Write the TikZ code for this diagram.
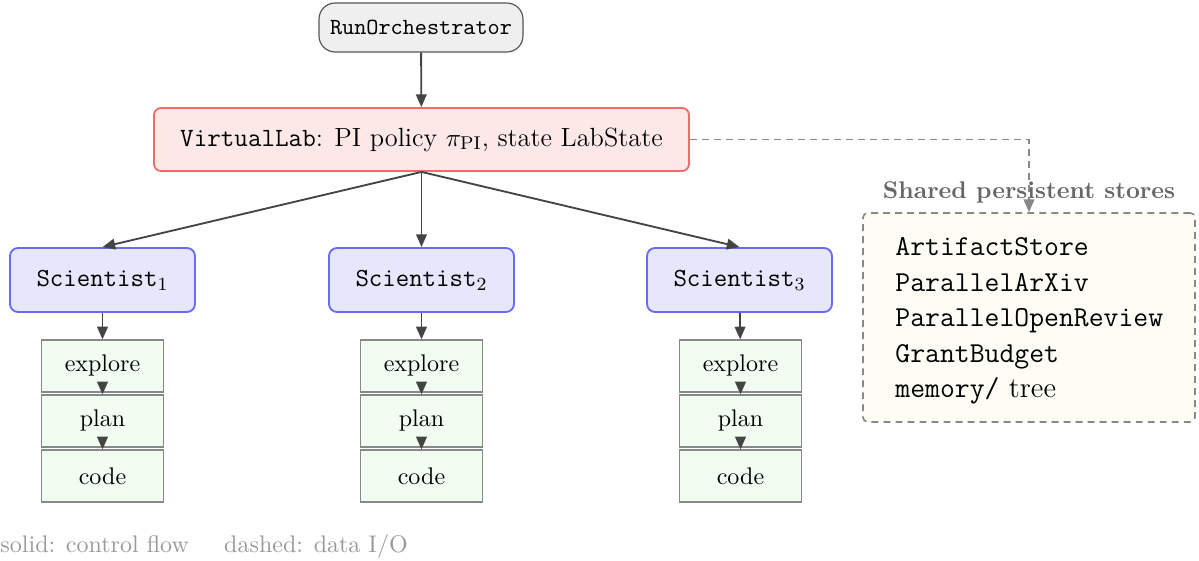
\documentclass[tikz,border=0pt]{standalone}
\usetikzlibrary{arrows.meta,positioning}
\def\pxu{0.4329pt}
\definecolor{ctrl}{HTML}{444444}
\definecolor{datac}{HTML}{888888}
\definecolor{orchfill}{HTML}{EFEFEF}
\definecolor{orchdraw}{HTML}{555555}
\definecolor{labfill}{HTML}{FDE8E8}
\definecolor{labdraw}{HTML}{F26B6B}
\definecolor{scifill}{HTML}{E6E6FC}
\definecolor{scidraw}{HTML}{6B6BF2}
\definecolor{stepfill}{HTML}{F0FDF0}
\definecolor{stepdraw}{HTML}{888888}
\definecolor{storefill}{HTML}{FDFDF6}
\definecolor{labelgray}{HTML}{666666}
\definecolor{legendgray}{HTML}{999999}
\tikzset{
  ctrlflow/.style={draw=ctrl, line width=0.8pt, -{Triangle[length=5.5pt,width=4.6pt]}},
  dataflow/.style={draw=datac, line width=0.7pt, dash pattern=on 3pt off 2.2pt, -{Triangle[length=5.5pt,width=4.6pt]}},
  orchbox/.style={draw=orchdraw, fill=orchfill, line width=0.5pt, rounded corners=7pt,
    minimum width=204*\pxu, minimum height=49*\pxu, inner sep=0pt,
    font=\fontsize{10}{12}\selectfont\ttfamily},
  labbox/.style={draw=labdraw, fill=labfill, line width=0.8pt, rounded corners=3pt,
    minimum width=535*\pxu, minimum height=63*\pxu, inner sep=0pt,
    font=\fontsize{11.4}{13.6}\selectfont},
  scibox/.style={draw=scidraw, fill=scifill, line width=0.8pt, rounded corners=3.5pt,
    minimum width=185*\pxu, minimum height=64*\pxu, inner sep=0pt,
    font=\fontsize{11.3}{13.6}\selectfont},
  stepbox/.style={draw=stepdraw, fill=stepfill, line width=0.5pt,
    minimum width=122*\pxu, minimum height=52*\pxu, inner sep=0pt,
    font=\fontsize{10.4}{12}\selectfont},
  storebox/.style={draw=datac, fill=storefill, line width=0.7pt, dash pattern=on 3pt off 2.2pt,
    rounded corners=2pt, minimum width=332*\pxu, minimum height=209*\pxu, inner sep=0pt},
  storelist/.style={inner sep=0pt, align=left, anchor=west,
    font=\fontsize{12.5}{15.4}\selectfont},
  storetitle/.style={text=labelgray, inner sep=0pt, font=\fontsize{10.45}{12}\selectfont\bfseries},
  legendtext/.style={text=legendgray, inner sep=0pt, anchor=base west, font=\fontsize{10.4}{12}\selectfont}
}
\begin{document}
\begin{tikzpicture}[x=\pxu, y=-\pxu]
\useasboundingbox (0,0) rectangle (1199,561);

\node[orchbox] (orch) at (421,27.5) {RunOrchestrator};
\node[labbox] (lab) at (421.5,139.5) {\texttt{VirtualLab}: PI policy $\pi_{\mathrm{PI}}$, state LabState};

\node[scibox] (s1) at (102.5,280) {\texttt{Scientist}$_1$};
\node[scibox] (s2) at (421.5,280) {\texttt{Scientist}$_2$};
\node[scibox] (s3) at (739.5,280) {\texttt{Scientist}$_3$};

\foreach \i/\x in {1/102.5, 2/421.5, 3/740.5} {
  \node[stepbox] (e\i) at (\x,366) {explore};
  \node[stepbox] (p\i) at (\x,421) {plan};
  \node[stepbox] (c\i) at (\x,476) {code};
  \draw[ctrlflow] (s\i) -- (e\i);
  \draw[ctrlflow] (e\i) -- (p\i);
  \draw[ctrlflow] (p\i) -- (c\i);
  \draw[ctrlflow] (lab.south) -- (s\i.north);
}

\draw[ctrlflow] (orch) -- (lab);

\node[storebox] (stores) at (1029,317.5) {};
\node[storelist] (storelist) at (895,321) {%
  \texttt{ArtifactStore}\\
  \texttt{ParallelArXiv}\\
  \texttt{ParallelOpenReview}\\
  \texttt{GrantBudget}\\
  \texttt{memory/} tree};
\node[storetitle] (stitle) at (1029,192) {Shared persistent stores};

\draw[dataflow] (lab.east) -| (stores.north);

\node[legendtext] (legend) at (0,553) {solid: control flow\hspace{15.3pt}dashed: data I/O};
\end{tikzpicture}
\end{document}
